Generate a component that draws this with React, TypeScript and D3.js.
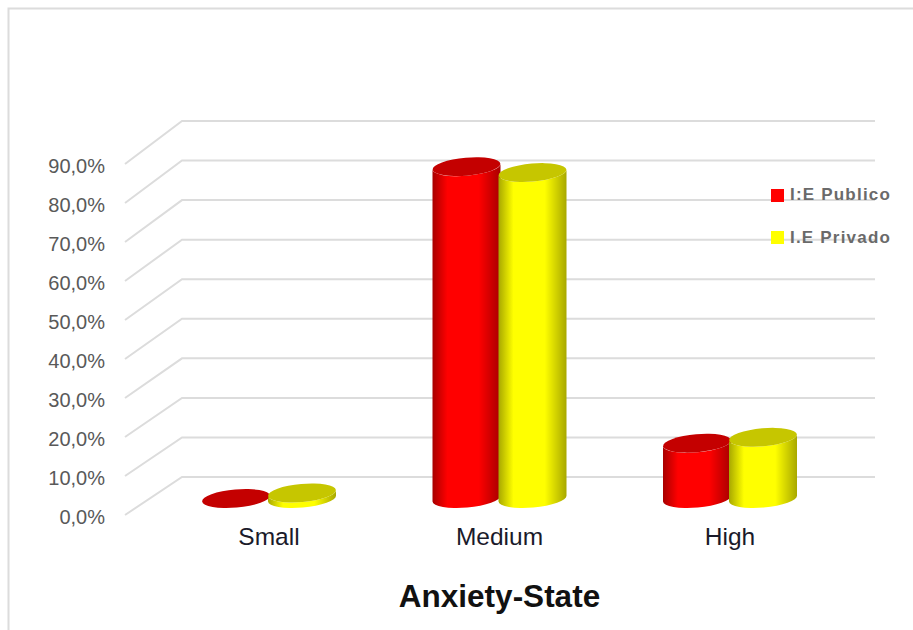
import React from "react";
import * as d3 from "d3";

const categories = ["Small", "Medium", "High"];
const seriesNames = ["I:E Publico", "I.E Privado"];
const publico = [0, 84.6, 14.1];
const privado = [1.4, 83.1, 15.6];
const yTicks = [0, 10, 20, 30, 40, 50, 60, 70, 80, 90];

const W = 913;
const H = 630;

// Floor depth of the 3D plot: back wall sits up and to the right of the front edge.
const backY = d3.scaleLinear().domain([0, 90]).range([477, 121]);
const frontY = d3.scaleLinear().domain([0, 90]).range([515, 164]);
const barY = d3.scaleLinear().domain([0, 90]).range([498.5, 145.5]);
const catCentre = d3.scalePoint().domain(categories).range([269, 730]);

const rx = 34;
const ry = 9;
const tilt = -5;

const palette = [
  { id: "pub", edge: "#a80000", mid: "#ff0000", cap: "#c40000" },
  { id: "pri", edge: "#a8a800", mid: "#ffff00", cap: "#c6c600" },
];

function Cylinder({ cx, value, c }: { cx: number; value: number; c: (typeof palette)[number] }) {
  const t = (tilt * Math.PI) / 180;
  const dy = Math.sin(t) * rx;
  const base = barY(0);
  const top = barY(value);
  // Side wall: left edge, front of the base ellipse, right edge, back along the cap.
  const body = [
    `M${cx - rx},${top - dy}`,
    `L${cx - rx},${base - dy}`,
    `A${rx},${ry} ${tilt} 0 0 ${cx + rx},${base + dy}`,
    `L${cx + rx},${top + dy}`,
    `A${rx},${ry} ${tilt} 0 1 ${cx - rx},${top - dy}`,
    "Z",
  ].join(" ");
  return (
    <g>
      <path d={body} fill={`url(#${c.id})`} />
      <ellipse cx={cx} cy={top} rx={rx} ry={ry} fill={c.cap} transform={`rotate(${tilt} ${cx} ${top})`} />
    </g>
  );
}

export default function App() {
  const font = "Liberation Sans, Arial, sans-serif";
  return (
    <svg width={W} height={H} style={{ position: "absolute", left: 0, top: 0, background: "#fff" }}>
      <defs>
        {palette.map((c) => (
          <linearGradient key={c.id} id={c.id} x1="0" x2="1" y1="0" y2="0">
            <stop offset="0" stopColor={c.edge} />
            <stop offset="0.22" stopColor={c.mid} />
            <stop offset="0.68" stopColor={c.mid} />
            <stop offset="1" stopColor={c.edge} />
          </linearGradient>
        ))}
      </defs>

      <path d={`M8.5,${H} V8.5 H${W}`} fill="none" stroke="#dcdcdc" strokeWidth={2} />

      {yTicks.map((v) => (
        <g key={v}>
          <path
            d={`M125,${frontY(v)} L182,${backY(v)} H875`}
            fill="none"
            stroke="#dcdcdc"
            strokeWidth={2}
          />
          <text x={105} y={frontY(v) + 9} textAnchor="end" fontFamily={font} fontSize={20} fill="#595959">
            {`${v.toFixed(1).replace(".", ",")}%`}
          </text>
        </g>
      ))}

      {categories.map((name, i) => {
        const centre = catCentre(name)!;
        return (
          <g key={name}>
            <Cylinder cx={centre - 33} value={publico[i]} c={palette[0]} />
            <Cylinder cx={centre + 33} value={privado[i]} c={palette[1]} />
            <text x={centre} y={545} textAnchor="middle" fontFamily={font} fontSize={24.5} fill="#1a1a2a">
              {name}
            </text>
          </g>
        );
      })}

      {seriesNames.map((name, i) => (
        <g key={name}>
          <rect x={771} y={189 + i * 42} width={13} height={13} fill={palette[i].mid} />
          <text
            x={790}
            y={200 + i * 43}
            fontFamily={font}
            fontSize={17}
            fontWeight="bold"
            letterSpacing={1.2}
            fill="#6a6a6a"
          >
            {name}
          </text>
        </g>
      ))}

      <text x={499.5} y={607} textAnchor="middle" fontFamily={font} fontSize={31.5} fontWeight="bold" fill="#111">
        Anxiety-State
      </text>
    </svg>
  );
}
